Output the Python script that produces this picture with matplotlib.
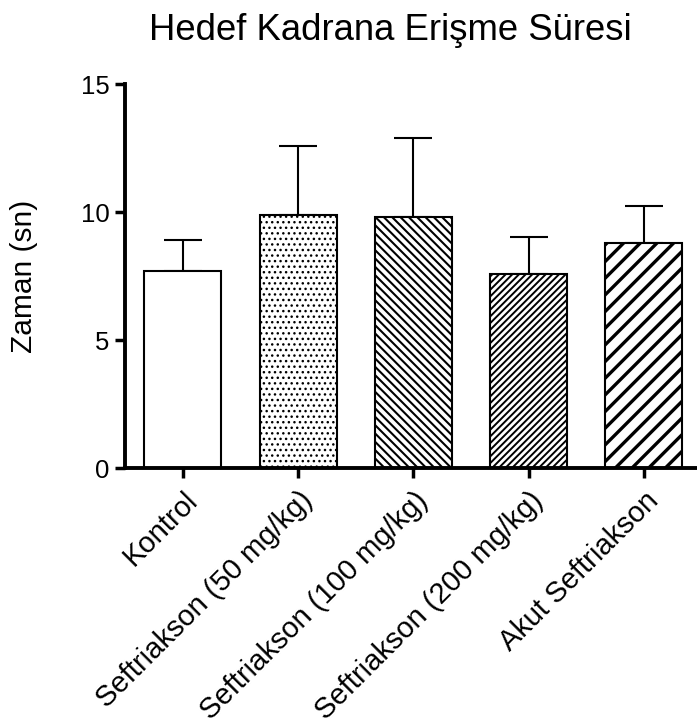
import matplotlib
matplotlib.use("Agg")
import matplotlib.pyplot as plt
import numpy as np

categories = ["Kontrol", "Seftriakson (50 mg/kg)", "Seftriakson (100 mg/kg)",
              "Seftriakson (200 mg/kg)", "Akut Seftriakson"]
means = [7.70, 9.89, 9.82, 7.59, 8.81]
errors = [1.21, 2.69, 3.07, 1.46, 1.45]
hatches = [None, "...", "\\\\\\\\", "/////", "//"]
hatch_lw = [1.0, 1.0, 1.5, 1.4, 2.4]
yticks = [0, 5, 10, 15]

plt.rcParams["font.family"] = ["Liberation Sans", "DejaVu Sans"]

fig = plt.figure(figsize=(6.97, 7.26), dpi=100)
ax = fig.add_axes([0.1793, 0.355, 0.8207, 0.5289])

x = np.arange(len(categories))
for i in range(len(categories)):
    plt.rcParams["hatch.linewidth"] = hatch_lw[i]
    b = ax.bar(x[i], means[i], width=0.668, color="white", edgecolor="black",
               linewidth=1.5, hatch=hatches[i], zorder=2)
    for p in b.patches:
        if hasattr(p, "set_hatch_linewidth"):
            p.set_hatch_linewidth(hatch_lw[i])
    ax.errorbar(x[i], means[i], yerr=[[0], [errors[i]]], fmt="none",
                ecolor="black", elinewidth=1.5, capsize=14, capthick=1.5, zorder=1)

ax.set_xlim(-0.503, 4.46)
ax.set_ylim(0, 15)
ax.set_yticks(yticks)
ax.set_xticks(x)
ax.set_xticklabels(categories, rotation=45, ha="right", rotation_mode="anchor")
ax.tick_params(axis="both", width=2.5, length=7, direction="out")
ax.tick_params(axis="x", pad=6, labelsize=21)
ax.tick_params(axis="y", pad=4, labelsize=18.5)
for s in ["top", "right"]:
    ax.spines[s].set_visible(False)
for s in ["left", "bottom"]:
    ax.spines[s].set_linewidth(2.8)
ax.set_ylabel("Zaman (sn)", fontsize=21.5, labelpad=31)
fig.text(0.56, 0.958, "Hedef Kadrana Erişme Süresi", fontsize=26.3, ha="center", va="center")

fig.savefig("out.png", dpi=100)
